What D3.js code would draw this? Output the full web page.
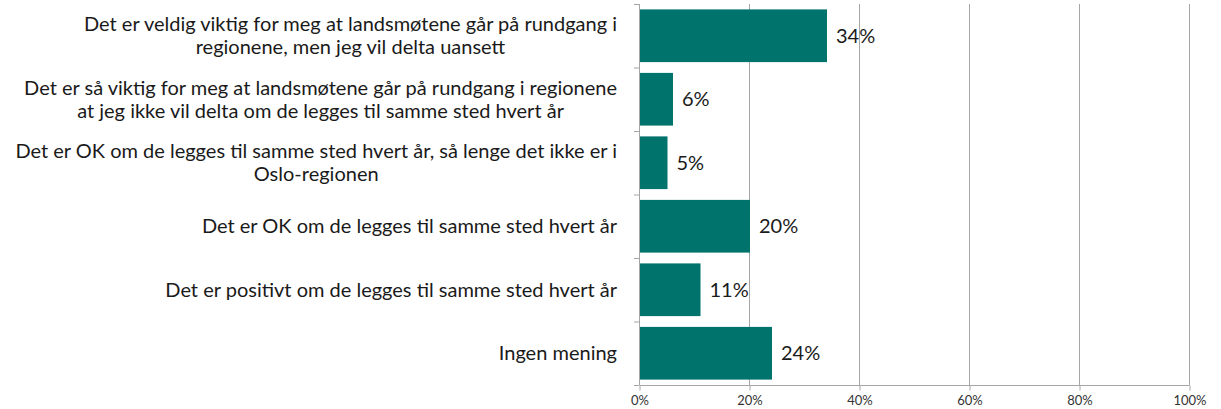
<!DOCTYPE html>
<html><head><meta charset="utf-8">
<script src="https://cdn.jsdelivr.net/npm/d3@7"></script>
<style>body{margin:0;background:#fff}svg{display:block}</style>
</head><body>
<svg id="c" width="1221" height="409"></svg>
<script>
const categories = [
  ["Det er veldig viktig for meg at landsmøtene går på rundgang i", "regionene, men jeg vil delta uansett"],
  ["Det er så viktig for meg at landsmøtene går på rundgang i regionene", "at jeg ikke vil delta om de legges til samme sted hvert år"],
  ["Det er OK om de legges til samme sted hvert år, så lenge det ikke er i", "Oslo-regionen"],
  ["Det er OK om de legges til samme sted hvert år"],
  ["Det er positivt om de legges til samme sted hvert år"],
  ["Ingen mening"]
];
const values = [34, 6, 5, 20, 11, 24];
const tickValues = [0, 20, 40, 60, 80, 100];
const tickLabels = ["0%", "20%", "40%", "60%", "80%", "100%"];

(function(){
const svg = d3.select("#c");
const font = "Lato, 'Open Sans', sans-serif";
const pL = 639, pR = 1189, pT = 4, pB = 385;
const x = d3.scaleLinear().domain([0, 100]).range([pL, pR]);
const y = d3.scaleBand().domain(d3.range(categories.length)).range([pT, pB]).paddingInner(0.17).paddingOuter(0.085);
const yStep = (pB - pT) / categories.length;

// gridlines
svg.append("g").selectAll("line").data(tickValues.slice(1)).join("line")
  .attr("x1", d => x(d)+0.5).attr("x2", d => x(d)+0.5)
  .attr("y1", pT).attr("y2", pB)
  .attr("stroke", "#a6a6a6").attr("stroke-width", 1);

// x axis
const xAxis = d3.axisBottom(x).tickValues(tickValues).tickFormat((d,i) => tickLabels[i]).tickSize(5).tickSizeOuter(0);
const gx = svg.append("g").attr("transform", `translate(0.5,${pB+0.5})`).call(xAxis);
gx.select(".domain").attr("stroke", "#a6a6a6").attr("d", `M${pL},0H${pR}`);
gx.selectAll(".tick line").attr("stroke", "#a6a6a6");
gx.selectAll(".tick text").attr("font-family", font).attr("font-size", 13).attr("fill", "#333").attr("dy", "0.9em");

// y axis line + boundary ticks
svg.append("line").attr("x1", pL+0.5).attr("x2", pL+0.5).attr("y1", pT).attr("y2", pB)
  .attr("stroke", "#a6a6a6");
svg.append("g").selectAll("line").data(d3.range(categories.length + 1)).join("line")
  .attr("x1", pL - 5).attr("x2", pL)
  .attr("y1", i => pT + i * yStep + 0.5).attr("y2", i => pT + i * yStep + 0.5)
  .attr("stroke", "#a6a6a6");

// bars
svg.append("g").selectAll("rect").data(values).join("rect")
  .attr("x", pL + 1).attr("y", (d,i) => y(i))
  .attr("width", d => x(d) - pL).attr("height", y.bandwidth())
  .attr("fill", "#00736C");

// value labels
svg.append("g").selectAll("text").data(values).join("text")
  .attr("x", d => x(d) + 10).attr("y", (d,i) => y(i) + y.bandwidth()/2)
  .attr("dy", "0.35em").attr("font-family", font).attr("font-size", 20).attr("fill", "#1a1a1a")
  .text(d => d + "%");

// category labels
const lg = svg.append("g");
const labelRight = 617, lineH = 23;
categories.forEach((lines, i) => {
  const cy = y(i) + y.bandwidth()/2;
  const g = lg.append("g");
  const texts = lines.map((t, j) => g.append("text")
    .attr("font-family", font).attr("font-size", 20).attr("fill", "#1a1a1a")
    .attr("y", cy + (j - (lines.length - 1)/2) * lineH).attr("dy", "0.35em")
    .attr("text-anchor", "middle").text(t));
  const w = d3.max(texts, t => t.node().getComputedTextLength());
  texts.forEach(t => t.attr("x", labelRight - w/2));
});
})();
</script>
</body></html>
